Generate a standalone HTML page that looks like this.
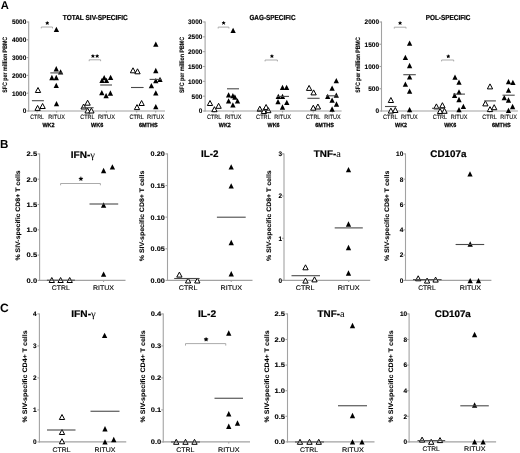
<!DOCTYPE html>
<html><head><meta charset="utf-8"><style>
html,body{margin:0;padding:0;background:#fff;}
svg{display:block;font-family:"Liberation Sans", sans-serif;filter:grayscale(1) blur(0.25px);text-rendering:geometricPrecision;}
</style></head><body>
<svg width="520" height="453" viewBox="0 0 520 453">
<rect width="520" height="453" fill="#fff"/>
<text x="0.75" y="9.0" font-size="11.2" font-weight="bold">A</text>
<line x1="28.70" y1="21.50" x2="28.70" y2="111.50" stroke="#a2a2a2" stroke-width="1.1"/>
<line x1="28.20" y1="111.00" x2="165.00" y2="111.00" stroke="#a2a2a2" stroke-width="1.1"/>
<line x1="26.70" y1="111.00" x2="28.70" y2="111.00" stroke="#a2a2a2" stroke-width="1.1"/>
<text x="22.70" y="113.36" font-size="6.6" font-weight="bold" fill="#000" stroke="#000" stroke-width="0.12" textLength="3.60" lengthAdjust="spacingAndGlyphs">0</text>
<line x1="26.70" y1="93.20" x2="28.70" y2="93.20" stroke="#a2a2a2" stroke-width="1.1"/>
<text x="11.92" y="95.56" font-size="6.6" font-weight="bold" fill="#000" stroke="#000" stroke-width="0.12" textLength="14.38" lengthAdjust="spacingAndGlyphs">1000</text>
<line x1="26.70" y1="75.40" x2="28.70" y2="75.40" stroke="#a2a2a2" stroke-width="1.1"/>
<text x="11.92" y="77.76" font-size="6.6" font-weight="bold" fill="#000" stroke="#000" stroke-width="0.12" textLength="14.38" lengthAdjust="spacingAndGlyphs">2000</text>
<line x1="26.70" y1="57.60" x2="28.70" y2="57.60" stroke="#a2a2a2" stroke-width="1.1"/>
<text x="11.92" y="59.96" font-size="6.6" font-weight="bold" fill="#000" stroke="#000" stroke-width="0.12" textLength="14.38" lengthAdjust="spacingAndGlyphs">3000</text>
<line x1="26.70" y1="39.80" x2="28.70" y2="39.80" stroke="#a2a2a2" stroke-width="1.1"/>
<text x="11.92" y="42.16" font-size="6.6" font-weight="bold" fill="#000" stroke="#000" stroke-width="0.12" textLength="14.38" lengthAdjust="spacingAndGlyphs">4000</text>
<line x1="26.70" y1="22.00" x2="28.70" y2="22.00" stroke="#a2a2a2" stroke-width="1.1"/>
<text x="11.92" y="24.36" font-size="6.6" font-weight="bold" fill="#000" stroke="#000" stroke-width="0.12" textLength="14.38" lengthAdjust="spacingAndGlyphs">5000</text>
<text x="62.80" y="20.26" font-size="7.3" font-weight="bold" fill="#000" stroke="#000" stroke-width="0.2" textLength="64.90" lengthAdjust="spacingAndGlyphs">TOTAL SIV-SPECIFIC</text>
<text transform="translate(6.90,92.70) rotate(-90)" x="0" y="0" font-size="6.4" font-weight="bold" fill="#000" stroke="#000" stroke-width="0.1" textLength="55.90" lengthAdjust="spacingAndGlyphs">SFC per million PBMC</text>
<text x="30.30" y="118.66" font-size="6.3" font-weight="normal" fill="#000" stroke="#000" stroke-width="0.1" textLength="13.60" lengthAdjust="spacingAndGlyphs">CTRL</text>
<text x="48.30" y="118.66" font-size="6.3" font-weight="normal" fill="#000" stroke="#000" stroke-width="0.1" textLength="16.70" lengthAdjust="spacingAndGlyphs">RITUX</text>
<text x="42.40" y="127.35" font-size="6.0" font-weight="bold" fill="#000" stroke="#000" stroke-width="0.25" textLength="12.20" lengthAdjust="spacingAndGlyphs">WK2</text>
<line x1="37.10" y1="111.00" x2="37.10" y2="112.50" stroke="#a2a2a2" stroke-width="1.1"/>
<line x1="56.65" y1="111.00" x2="56.65" y2="112.50" stroke="#a2a2a2" stroke-width="1.1"/>
<text x="80.30" y="118.66" font-size="6.3" font-weight="normal" fill="#000" stroke="#000" stroke-width="0.1" textLength="14.20" lengthAdjust="spacingAndGlyphs">CTRL</text>
<text x="97.90" y="118.66" font-size="6.3" font-weight="normal" fill="#000" stroke="#000" stroke-width="0.1" textLength="17.10" lengthAdjust="spacingAndGlyphs">RITUX</text>
<text x="91.10" y="127.35" font-size="6.0" font-weight="bold" fill="#000" stroke="#000" stroke-width="0.25" textLength="12.20" lengthAdjust="spacingAndGlyphs">WK6</text>
<line x1="87.40" y1="111.00" x2="87.40" y2="112.50" stroke="#a2a2a2" stroke-width="1.1"/>
<line x1="106.45" y1="111.00" x2="106.45" y2="112.50" stroke="#a2a2a2" stroke-width="1.1"/>
<text x="129.40" y="118.66" font-size="6.3" font-weight="normal" fill="#000" stroke="#000" stroke-width="0.1" textLength="14.50" lengthAdjust="spacingAndGlyphs">CTRL</text>
<text x="147.00" y="118.66" font-size="6.3" font-weight="normal" fill="#000" stroke="#000" stroke-width="0.1" textLength="17.30" lengthAdjust="spacingAndGlyphs">RITUX</text>
<text x="138.90" y="127.35" font-size="6.0" font-weight="bold" fill="#000" stroke="#000" stroke-width="0.25" textLength="18.80" lengthAdjust="spacingAndGlyphs">6MTHS</text>
<line x1="136.65" y1="111.00" x2="136.65" y2="112.50" stroke="#a2a2a2" stroke-width="1.1"/>
<line x1="155.65" y1="111.00" x2="155.65" y2="112.50" stroke="#a2a2a2" stroke-width="1.1"/>
<path d="M47.30,23.20 L47.30,21.85 M47.30,23.20 L46.02,22.78 M47.30,23.20 L46.51,24.29 M47.30,23.20 L48.09,24.29 M47.30,23.20 L48.58,22.78" stroke="#000" stroke-width="1.0" stroke-linecap="round"/>
<circle cx="47.30" cy="23.20" r="1.0" fill="#000"/>
<polyline points="41.30,28.40 41.30,27.00 52.50,27.00 52.50,28.40" fill="none" stroke="#a2a2a2" stroke-width="0.9"/>
<path d="M92.90,56.20 L92.90,54.85 M92.90,56.20 L91.62,55.78 M92.90,56.20 L92.11,57.29 M92.90,56.20 L93.69,57.29 M92.90,56.20 L94.18,55.78" stroke="#000" stroke-width="1.0" stroke-linecap="round"/>
<circle cx="92.90" cy="56.20" r="1.0" fill="#000"/>
<path d="M97.20,56.20 L97.20,54.85 M97.20,56.20 L95.92,55.78 M97.20,56.20 L96.41,57.29 M97.20,56.20 L97.99,57.29 M97.20,56.20 L98.48,55.78" stroke="#000" stroke-width="1.0" stroke-linecap="round"/>
<circle cx="97.20" cy="56.20" r="1.0" fill="#000"/>
<polyline points="89.20,61.20 89.20,59.80 100.60,59.80 100.60,61.20" fill="none" stroke="#a2a2a2" stroke-width="0.9"/>
<polygon points="38.00,87.50 35.35,92.50 40.65,92.50" fill="#fff" stroke="#000" stroke-width="1.0" stroke-linejoin="miter" stroke-miterlimit="10"/>
<polygon points="37.60,105.40 34.95,110.40 40.25,110.40" fill="#fff" stroke="#000" stroke-width="1.0" stroke-linejoin="miter" stroke-miterlimit="10"/>
<polygon points="42.60,103.50 39.95,108.50 45.25,108.50" fill="#fff" stroke="#000" stroke-width="1.0" stroke-linejoin="miter" stroke-miterlimit="10"/>
<polygon points="56.40,26.75 53.75,32.05 59.05,32.05" fill="#000"/>
<polygon points="56.25,66.10 53.60,71.40 58.90,71.40" fill="#000"/>
<polygon points="60.60,69.25 57.95,74.55 63.25,74.55" fill="#000"/>
<polygon points="51.90,74.85 49.25,80.15 54.55,80.15" fill="#000"/>
<polygon points="56.25,74.85 53.60,80.15 58.90,80.15" fill="#000"/>
<polygon points="56.25,82.75 53.60,88.05 58.90,88.05" fill="#000"/>
<polygon points="56.50,100.95 53.85,106.25 59.15,106.25" fill="#000"/>
<polygon points="87.60,100.20 84.95,105.20 90.25,105.20" fill="#fff" stroke="#000" stroke-width="1.0" stroke-linejoin="miter" stroke-miterlimit="10"/>
<polygon points="83.60,104.00 80.95,109.00 86.25,109.00" fill="#fff" stroke="#000" stroke-width="1.0" stroke-linejoin="miter" stroke-miterlimit="10"/>
<polygon points="87.60,108.00 84.95,113.00 90.25,113.00" fill="#fff" stroke="#000" stroke-width="1.0" stroke-linejoin="miter" stroke-miterlimit="10"/>
<polygon points="91.40,108.00 88.75,113.00 94.05,113.00" fill="#fff" stroke="#000" stroke-width="1.0" stroke-linejoin="miter" stroke-miterlimit="10"/>
<polygon points="104.20,75.05 101.55,80.35 106.85,80.35" fill="#000"/>
<polygon points="102.00,77.75 99.35,83.05 104.65,83.05" fill="#000"/>
<polygon points="106.50,77.75 103.85,83.05 109.15,83.05" fill="#000"/>
<polygon points="110.60,74.75 107.95,80.05 113.25,80.05" fill="#000"/>
<polygon points="101.80,90.05 99.15,95.35 104.45,95.35" fill="#000"/>
<polygon points="106.10,92.95 103.45,98.25 108.75,98.25" fill="#000"/>
<polygon points="110.40,90.35 107.75,95.65 113.05,95.65" fill="#000"/>
<polygon points="133.00,67.80 130.35,72.80 135.65,72.80" fill="#fff" stroke="#000" stroke-width="1.0" stroke-linejoin="miter" stroke-miterlimit="10"/>
<polygon points="137.50,68.80 134.85,73.80 140.15,73.80" fill="#fff" stroke="#000" stroke-width="1.0" stroke-linejoin="miter" stroke-miterlimit="10"/>
<polygon points="141.60,100.50 138.95,105.50 144.25,105.50" fill="#fff" stroke="#000" stroke-width="1.0" stroke-linejoin="miter" stroke-miterlimit="10"/>
<polygon points="137.00,104.60 134.35,109.60 139.65,109.60" fill="#fff" stroke="#000" stroke-width="1.0" stroke-linejoin="miter" stroke-miterlimit="10"/>
<polygon points="155.80,41.45 153.15,46.75 158.45,46.75" fill="#000"/>
<polygon points="155.80,67.85 153.15,73.15 158.45,73.15" fill="#000"/>
<polygon points="155.80,78.05 153.15,83.35 158.45,83.35" fill="#000"/>
<polygon points="160.00,76.75 157.35,82.05 162.65,82.05" fill="#000"/>
<polygon points="151.40,83.05 148.75,88.35 154.05,88.35" fill="#000"/>
<polygon points="155.80,90.25 153.15,95.55 158.45,95.55" fill="#000"/>
<polygon points="155.80,104.05 153.15,109.35 158.45,109.35" fill="#000"/>
<line x1="31.90" y1="100.70" x2="43.90" y2="100.70" stroke="#4a4a4a" stroke-width="1.1"/>
<line x1="50.30" y1="72.90" x2="62.30" y2="72.90" stroke="#4a4a4a" stroke-width="1.1"/>
<line x1="81.60" y1="107.70" x2="93.60" y2="107.70" stroke="#4a4a4a" stroke-width="1.1"/>
<line x1="100.20" y1="85.00" x2="112.00" y2="85.00" stroke="#4a4a4a" stroke-width="1.1"/>
<line x1="131.00" y1="87.50" x2="143.60" y2="87.50" stroke="#4a4a4a" stroke-width="1.1"/>
<line x1="149.60" y1="79.40" x2="161.60" y2="79.40" stroke="#4a4a4a" stroke-width="1.1"/>
<line x1="205.10" y1="21.50" x2="205.10" y2="111.50" stroke="#a2a2a2" stroke-width="1.1"/>
<line x1="204.60" y1="111.00" x2="341.60" y2="111.00" stroke="#a2a2a2" stroke-width="1.1"/>
<line x1="203.10" y1="111.00" x2="205.10" y2="111.00" stroke="#a2a2a2" stroke-width="1.1"/>
<text x="198.80" y="113.36" font-size="6.6" font-weight="bold" fill="#000" stroke="#000" stroke-width="0.12" textLength="3.60" lengthAdjust="spacingAndGlyphs">0</text>
<line x1="203.10" y1="96.17" x2="205.10" y2="96.17" stroke="#a2a2a2" stroke-width="1.1"/>
<text x="191.61" y="98.53" font-size="6.6" font-weight="bold" fill="#000" stroke="#000" stroke-width="0.12" textLength="10.79" lengthAdjust="spacingAndGlyphs">500</text>
<line x1="203.10" y1="81.33" x2="205.10" y2="81.33" stroke="#a2a2a2" stroke-width="1.1"/>
<text x="188.02" y="83.70" font-size="6.6" font-weight="bold" fill="#000" stroke="#000" stroke-width="0.12" textLength="14.38" lengthAdjust="spacingAndGlyphs">1000</text>
<line x1="203.10" y1="66.50" x2="205.10" y2="66.50" stroke="#a2a2a2" stroke-width="1.1"/>
<text x="188.02" y="68.86" font-size="6.6" font-weight="bold" fill="#000" stroke="#000" stroke-width="0.12" textLength="14.38" lengthAdjust="spacingAndGlyphs">1500</text>
<line x1="203.10" y1="51.67" x2="205.10" y2="51.67" stroke="#a2a2a2" stroke-width="1.1"/>
<text x="188.02" y="54.03" font-size="6.6" font-weight="bold" fill="#000" stroke="#000" stroke-width="0.12" textLength="14.38" lengthAdjust="spacingAndGlyphs">2000</text>
<line x1="203.10" y1="36.83" x2="205.10" y2="36.83" stroke="#a2a2a2" stroke-width="1.1"/>
<text x="188.02" y="39.20" font-size="6.6" font-weight="bold" fill="#000" stroke="#000" stroke-width="0.12" textLength="14.38" lengthAdjust="spacingAndGlyphs">2500</text>
<line x1="203.10" y1="22.00" x2="205.10" y2="22.00" stroke="#a2a2a2" stroke-width="1.1"/>
<text x="188.02" y="24.36" font-size="6.6" font-weight="bold" fill="#000" stroke="#000" stroke-width="0.12" textLength="14.38" lengthAdjust="spacingAndGlyphs">3000</text>
<text x="249.40" y="20.26" font-size="7.3" font-weight="bold" fill="#000" stroke="#000" stroke-width="0.2" textLength="46.10" lengthAdjust="spacingAndGlyphs">GAG-SPECIFIC</text>
<text transform="translate(183.80,93.00) rotate(-90)" x="0" y="0" font-size="6.4" font-weight="bold" fill="#000" stroke="#000" stroke-width="0.1" textLength="56.00" lengthAdjust="spacingAndGlyphs">SFC per million PBMC</text>
<text x="206.90" y="118.66" font-size="6.3" font-weight="normal" fill="#000" stroke="#000" stroke-width="0.1" textLength="14.50" lengthAdjust="spacingAndGlyphs">CTRL</text>
<text x="224.90" y="118.66" font-size="6.3" font-weight="normal" fill="#000" stroke="#000" stroke-width="0.1" textLength="16.60" lengthAdjust="spacingAndGlyphs">RITUX</text>
<text x="218.80" y="127.35" font-size="6.0" font-weight="bold" fill="#000" stroke="#000" stroke-width="0.25" textLength="12.00" lengthAdjust="spacingAndGlyphs">WK2</text>
<line x1="214.15" y1="111.00" x2="214.15" y2="112.50" stroke="#a2a2a2" stroke-width="1.1"/>
<line x1="233.20" y1="111.00" x2="233.20" y2="112.50" stroke="#a2a2a2" stroke-width="1.1"/>
<text x="256.10" y="118.66" font-size="6.3" font-weight="normal" fill="#000" stroke="#000" stroke-width="0.1" textLength="14.70" lengthAdjust="spacingAndGlyphs">CTRL</text>
<text x="274.20" y="118.66" font-size="6.3" font-weight="normal" fill="#000" stroke="#000" stroke-width="0.1" textLength="16.70" lengthAdjust="spacingAndGlyphs">RITUX</text>
<text x="267.60" y="127.35" font-size="6.0" font-weight="bold" fill="#000" stroke="#000" stroke-width="0.25" textLength="12.00" lengthAdjust="spacingAndGlyphs">WK6</text>
<line x1="263.45" y1="111.00" x2="263.45" y2="112.50" stroke="#a2a2a2" stroke-width="1.1"/>
<line x1="282.55" y1="111.00" x2="282.55" y2="112.50" stroke="#a2a2a2" stroke-width="1.1"/>
<text x="306.10" y="118.66" font-size="6.3" font-weight="normal" fill="#000" stroke="#000" stroke-width="0.1" textLength="14.30" lengthAdjust="spacingAndGlyphs">CTRL</text>
<text x="324.20" y="118.66" font-size="6.3" font-weight="normal" fill="#000" stroke="#000" stroke-width="0.1" textLength="16.40" lengthAdjust="spacingAndGlyphs">RITUX</text>
<text x="315.20" y="127.35" font-size="6.0" font-weight="bold" fill="#000" stroke="#000" stroke-width="0.25" textLength="18.80" lengthAdjust="spacingAndGlyphs">6MTHS</text>
<line x1="313.25" y1="111.00" x2="313.25" y2="112.50" stroke="#a2a2a2" stroke-width="1.1"/>
<line x1="332.40" y1="111.00" x2="332.40" y2="112.50" stroke="#a2a2a2" stroke-width="1.1"/>
<path d="M223.60,23.10 L223.60,21.75 M223.60,23.10 L222.32,22.68 M223.60,23.10 L222.81,24.19 M223.60,23.10 L224.39,24.19 M223.60,23.10 L224.88,22.68" stroke="#000" stroke-width="1.0" stroke-linecap="round"/>
<circle cx="223.60" cy="23.10" r="1.0" fill="#000"/>
<polyline points="218.20,28.50 218.20,27.10 228.90,27.10 228.90,28.50" fill="none" stroke="#a2a2a2" stroke-width="0.9"/>
<path d="M271.90,56.30 L271.90,54.95 M271.90,56.30 L270.62,55.88 M271.90,56.30 L271.11,57.39 M271.90,56.30 L272.69,57.39 M271.90,56.30 L273.18,55.88" stroke="#000" stroke-width="1.0" stroke-linecap="round"/>
<circle cx="271.90" cy="56.30" r="1.0" fill="#000"/>
<polyline points="265.10,61.40 265.10,60.00 277.40,60.00 277.40,61.40" fill="none" stroke="#a2a2a2" stroke-width="0.9"/>
<polygon points="210.00,100.50 207.35,105.50 212.65,105.50" fill="#fff" stroke="#000" stroke-width="1.0" stroke-linejoin="miter" stroke-miterlimit="10"/>
<polygon points="218.60,103.30 215.95,108.30 221.25,108.30" fill="#fff" stroke="#000" stroke-width="1.0" stroke-linejoin="miter" stroke-miterlimit="10"/>
<polygon points="214.40,106.70 211.75,111.70 217.05,111.70" fill="#fff" stroke="#000" stroke-width="1.0" stroke-linejoin="miter" stroke-miterlimit="10"/>
<polygon points="233.10,27.75 230.45,33.05 235.75,33.05" fill="#000"/>
<polygon points="228.60,92.15 225.95,97.45 231.25,97.45" fill="#000"/>
<polygon points="232.90,93.05 230.25,98.35 235.55,98.35" fill="#000"/>
<polygon points="234.90,94.35 232.25,99.65 237.55,99.65" fill="#000"/>
<polygon points="228.60,98.15 225.95,103.45 231.25,103.45" fill="#000"/>
<polygon points="237.50,98.15 234.85,103.45 240.15,103.45" fill="#000"/>
<polygon points="232.90,102.25 230.25,107.55 235.55,107.55" fill="#000"/>
<polygon points="259.80,106.20 257.15,111.20 262.45,111.20" fill="#fff" stroke="#000" stroke-width="1.0" stroke-linejoin="miter" stroke-miterlimit="10"/>
<polygon points="266.10,104.50 263.45,109.50 268.75,109.50" fill="#fff" stroke="#000" stroke-width="1.0" stroke-linejoin="miter" stroke-miterlimit="10"/>
<polygon points="263.90,108.50 261.25,113.50 266.55,113.50" fill="#fff" stroke="#000" stroke-width="1.0" stroke-linejoin="miter" stroke-miterlimit="10"/>
<polygon points="268.30,107.70 265.65,112.70 270.95,112.70" fill="#fff" stroke="#000" stroke-width="1.0" stroke-linejoin="miter" stroke-miterlimit="10"/>
<polygon points="282.50,84.65 279.85,89.95 285.15,89.95" fill="#000"/>
<polygon points="286.60,84.65 283.95,89.95 289.25,89.95" fill="#000"/>
<polygon points="278.30,93.75 275.65,99.05 280.95,99.05" fill="#000"/>
<polygon points="282.50,93.75 279.85,99.05 285.15,99.05" fill="#000"/>
<polygon points="278.00,98.95 275.35,104.25 280.65,104.25" fill="#000"/>
<polygon points="286.80,99.75 284.15,105.05 289.45,105.05" fill="#000"/>
<polygon points="282.50,104.35 279.85,109.65 285.15,109.65" fill="#000"/>
<polygon points="309.10,85.40 306.45,90.40 311.75,90.40" fill="#fff" stroke="#000" stroke-width="1.0" stroke-linejoin="miter" stroke-miterlimit="10"/>
<polygon points="313.60,89.90 310.95,94.90 316.25,94.90" fill="#fff" stroke="#000" stroke-width="1.0" stroke-linejoin="miter" stroke-miterlimit="10"/>
<polygon points="313.30,105.20 310.65,110.20 315.95,110.20" fill="#fff" stroke="#000" stroke-width="1.0" stroke-linejoin="miter" stroke-miterlimit="10"/>
<polygon points="317.90,104.00 315.25,109.00 320.55,109.00" fill="#fff" stroke="#000" stroke-width="1.0" stroke-linejoin="miter" stroke-miterlimit="10"/>
<polygon points="336.30,78.05 333.65,83.35 338.95,83.35" fill="#000"/>
<polygon points="332.10,85.55 329.45,90.85 334.75,90.85" fill="#000"/>
<polygon points="327.70,93.75 325.05,99.05 330.35,99.05" fill="#000"/>
<polygon points="336.30,92.55 333.65,97.85 338.95,97.85" fill="#000"/>
<polygon points="332.10,97.55 329.45,102.85 334.75,102.85" fill="#000"/>
<polygon points="336.50,101.35 333.85,106.65 339.15,106.65" fill="#000"/>
<polygon points="332.10,106.35 329.45,111.65 334.75,111.65" fill="#000"/>
<line x1="227.00" y1="88.80" x2="239.00" y2="88.80" stroke="#4a4a4a" stroke-width="1.1"/>
<line x1="257.50" y1="110.30" x2="270.00" y2="110.30" stroke="#4a4a4a" stroke-width="1.1"/>
<line x1="277.00" y1="96.40" x2="289.00" y2="96.40" stroke="#4a4a4a" stroke-width="1.1"/>
<line x1="307.40" y1="98.30" x2="319.60" y2="98.30" stroke="#4a4a4a" stroke-width="1.1"/>
<line x1="326.00" y1="95.80" x2="338.00" y2="95.80" stroke="#4a4a4a" stroke-width="1.1"/>
<line x1="381.50" y1="21.50" x2="381.50" y2="111.50" stroke="#a2a2a2" stroke-width="1.1"/>
<line x1="381.00" y1="111.00" x2="517.90" y2="111.00" stroke="#a2a2a2" stroke-width="1.1"/>
<line x1="379.50" y1="111.00" x2="381.50" y2="111.00" stroke="#a2a2a2" stroke-width="1.1"/>
<text x="375.40" y="113.36" font-size="6.6" font-weight="bold" fill="#000" stroke="#000" stroke-width="0.12" textLength="3.60" lengthAdjust="spacingAndGlyphs">0</text>
<line x1="379.50" y1="88.75" x2="381.50" y2="88.75" stroke="#a2a2a2" stroke-width="1.1"/>
<text x="368.21" y="91.11" font-size="6.6" font-weight="bold" fill="#000" stroke="#000" stroke-width="0.12" textLength="10.79" lengthAdjust="spacingAndGlyphs">500</text>
<line x1="379.50" y1="66.50" x2="381.50" y2="66.50" stroke="#a2a2a2" stroke-width="1.1"/>
<text x="364.62" y="68.86" font-size="6.6" font-weight="bold" fill="#000" stroke="#000" stroke-width="0.12" textLength="14.38" lengthAdjust="spacingAndGlyphs">1000</text>
<line x1="379.50" y1="44.25" x2="381.50" y2="44.25" stroke="#a2a2a2" stroke-width="1.1"/>
<text x="364.62" y="46.61" font-size="6.6" font-weight="bold" fill="#000" stroke="#000" stroke-width="0.12" textLength="14.38" lengthAdjust="spacingAndGlyphs">1500</text>
<line x1="379.50" y1="22.00" x2="381.50" y2="22.00" stroke="#a2a2a2" stroke-width="1.1"/>
<text x="364.62" y="24.36" font-size="6.6" font-weight="bold" fill="#000" stroke="#000" stroke-width="0.12" textLength="14.38" lengthAdjust="spacingAndGlyphs">2000</text>
<text x="425.70" y="20.26" font-size="7.3" font-weight="bold" fill="#000" stroke="#000" stroke-width="0.2" textLength="44.80" lengthAdjust="spacingAndGlyphs">POL-SPECIFIC</text>
<text transform="translate(359.60,92.80) rotate(-90)" x="0" y="0" font-size="6.4" font-weight="bold" fill="#000" stroke="#000" stroke-width="0.1" textLength="55.60" lengthAdjust="spacingAndGlyphs">SFC per million PBMC</text>
<text x="383.10" y="118.66" font-size="6.3" font-weight="normal" fill="#000" stroke="#000" stroke-width="0.1" textLength="14.50" lengthAdjust="spacingAndGlyphs">CTRL</text>
<text x="401.10" y="118.66" font-size="6.3" font-weight="normal" fill="#000" stroke="#000" stroke-width="0.1" textLength="16.60" lengthAdjust="spacingAndGlyphs">RITUX</text>
<text x="395.10" y="127.35" font-size="6.0" font-weight="bold" fill="#000" stroke="#000" stroke-width="0.25" textLength="11.90" lengthAdjust="spacingAndGlyphs">WK2</text>
<line x1="390.35" y1="111.00" x2="390.35" y2="112.50" stroke="#a2a2a2" stroke-width="1.1"/>
<line x1="409.40" y1="111.00" x2="409.40" y2="112.50" stroke="#a2a2a2" stroke-width="1.1"/>
<text x="432.80" y="118.66" font-size="6.3" font-weight="normal" fill="#000" stroke="#000" stroke-width="0.1" textLength="14.20" lengthAdjust="spacingAndGlyphs">CTRL</text>
<text x="450.80" y="118.66" font-size="6.3" font-weight="normal" fill="#000" stroke="#000" stroke-width="0.1" textLength="16.70" lengthAdjust="spacingAndGlyphs">RITUX</text>
<text x="444.20" y="127.35" font-size="6.0" font-weight="bold" fill="#000" stroke="#000" stroke-width="0.25" textLength="12.00" lengthAdjust="spacingAndGlyphs">WK6</text>
<line x1="439.90" y1="111.00" x2="439.90" y2="112.50" stroke="#a2a2a2" stroke-width="1.1"/>
<line x1="459.15" y1="111.00" x2="459.15" y2="112.50" stroke="#a2a2a2" stroke-width="1.1"/>
<text x="482.30" y="118.66" font-size="6.3" font-weight="normal" fill="#000" stroke="#000" stroke-width="0.1" textLength="14.60" lengthAdjust="spacingAndGlyphs">CTRL</text>
<text x="500.30" y="118.66" font-size="6.3" font-weight="normal" fill="#000" stroke="#000" stroke-width="0.1" textLength="16.60" lengthAdjust="spacingAndGlyphs">RITUX</text>
<text x="491.90" y="127.35" font-size="6.0" font-weight="bold" fill="#000" stroke="#000" stroke-width="0.25" textLength="18.70" lengthAdjust="spacingAndGlyphs">6MTHS</text>
<line x1="489.60" y1="111.00" x2="489.60" y2="112.50" stroke="#a2a2a2" stroke-width="1.1"/>
<line x1="508.60" y1="111.00" x2="508.60" y2="112.50" stroke="#a2a2a2" stroke-width="1.1"/>
<path d="M400.10,23.20 L400.10,21.85 M400.10,23.20 L398.82,22.78 M400.10,23.20 L399.31,24.29 M400.10,23.20 L400.89,24.29 M400.10,23.20 L401.38,22.78" stroke="#000" stroke-width="1.0" stroke-linecap="round"/>
<circle cx="400.10" cy="23.20" r="1.0" fill="#000"/>
<polyline points="394.30,28.60 394.30,27.20 406.00,27.20 406.00,28.60" fill="none" stroke="#a2a2a2" stroke-width="0.9"/>
<path d="M448.30,56.40 L448.30,55.05 M448.30,56.40 L447.02,55.98 M448.30,56.40 L447.51,57.49 M448.30,56.40 L449.09,57.49 M448.30,56.40 L449.58,55.98" stroke="#000" stroke-width="1.0" stroke-linecap="round"/>
<circle cx="448.30" cy="56.40" r="1.0" fill="#000"/>
<polyline points="441.60,61.40 441.60,60.00 453.70,60.00 453.70,61.40" fill="none" stroke="#a2a2a2" stroke-width="0.9"/>
<polygon points="390.90,97.50 388.25,102.50 393.55,102.50" fill="#fff" stroke="#000" stroke-width="1.0" stroke-linejoin="miter" stroke-miterlimit="10"/>
<polygon points="390.90,108.10 388.25,113.10 393.55,113.10" fill="#fff" stroke="#000" stroke-width="1.0" stroke-linejoin="miter" stroke-miterlimit="10"/>
<polygon points="395.30,107.50 392.65,112.50 397.95,112.50" fill="#fff" stroke="#000" stroke-width="1.0" stroke-linejoin="miter" stroke-miterlimit="10"/>
<polygon points="409.60,40.55 406.95,45.85 412.25,45.85" fill="#000"/>
<polygon points="405.40,54.75 402.75,60.05 408.05,60.05" fill="#000"/>
<polygon points="409.60,62.85 406.95,68.15 412.25,68.15" fill="#000"/>
<polygon points="409.60,74.15 406.95,79.45 412.25,79.45" fill="#000"/>
<polygon points="405.40,81.45 402.75,86.75 408.05,86.75" fill="#000"/>
<polygon points="409.60,88.45 406.95,93.75 412.25,93.75" fill="#000"/>
<polygon points="409.60,106.95 406.95,112.25 412.25,112.25" fill="#000"/>
<polygon points="436.40,103.90 433.75,108.90 439.05,108.90" fill="#fff" stroke="#000" stroke-width="1.0" stroke-linejoin="miter" stroke-miterlimit="10"/>
<polygon points="442.40,102.70 439.75,107.70 445.05,107.70" fill="#fff" stroke="#000" stroke-width="1.0" stroke-linejoin="miter" stroke-miterlimit="10"/>
<polygon points="440.10,108.50 437.45,113.50 442.75,113.50" fill="#fff" stroke="#000" stroke-width="1.0" stroke-linejoin="miter" stroke-miterlimit="10"/>
<polygon points="444.50,108.30 441.85,113.30 447.15,113.30" fill="#fff" stroke="#000" stroke-width="1.0" stroke-linejoin="miter" stroke-miterlimit="10"/>
<polygon points="455.00,74.45 452.35,79.75 457.65,79.75" fill="#000"/>
<polygon points="459.00,79.45 456.35,84.75 461.65,84.75" fill="#000"/>
<polygon points="459.00,89.25 456.35,94.55 461.65,94.55" fill="#000"/>
<polygon points="454.60,92.65 451.95,97.95 457.25,97.95" fill="#000"/>
<polygon points="459.00,96.85 456.35,102.15 461.65,102.15" fill="#000"/>
<polygon points="463.40,103.75 460.75,109.05 466.05,109.05" fill="#000"/>
<polygon points="459.00,106.95 456.35,112.25 461.65,112.25" fill="#000"/>
<polygon points="490.00,83.90 487.35,88.90 492.65,88.90" fill="#fff" stroke="#000" stroke-width="1.0" stroke-linejoin="miter" stroke-miterlimit="10"/>
<polygon points="485.40,100.90 482.75,105.90 488.05,105.90" fill="#fff" stroke="#000" stroke-width="1.0" stroke-linejoin="miter" stroke-miterlimit="10"/>
<polygon points="494.20,104.70 491.55,109.70 496.85,109.70" fill="#fff" stroke="#000" stroke-width="1.0" stroke-linejoin="miter" stroke-miterlimit="10"/>
<polygon points="490.00,106.60 487.35,111.60 492.65,111.60" fill="#fff" stroke="#000" stroke-width="1.0" stroke-linejoin="miter" stroke-miterlimit="10"/>
<polygon points="508.50,78.95 505.85,84.25 511.15,84.25" fill="#000"/>
<polygon points="512.90,79.75 510.25,85.05 515.55,85.05" fill="#000"/>
<polygon points="508.50,87.55 505.85,92.85 511.15,92.85" fill="#000"/>
<polygon points="504.30,95.05 501.65,100.35 506.95,100.35" fill="#000"/>
<polygon points="508.50,97.35 505.85,102.65 511.15,102.65" fill="#000"/>
<polygon points="512.60,103.85 509.95,109.15 515.25,109.15" fill="#000"/>
<polygon points="508.50,107.65 505.85,112.95 511.15,112.95" fill="#000"/>
<line x1="385.00" y1="106.50" x2="396.60" y2="106.50" stroke="#4a4a4a" stroke-width="1.1"/>
<line x1="403.30" y1="74.70" x2="415.80" y2="74.70" stroke="#4a4a4a" stroke-width="1.1"/>
<line x1="432.00" y1="108.30" x2="444.00" y2="108.30" stroke="#4a4a4a" stroke-width="1.1"/>
<line x1="453.00" y1="94.10" x2="465.00" y2="94.10" stroke="#4a4a4a" stroke-width="1.1"/>
<line x1="484.20" y1="100.90" x2="495.90" y2="100.90" stroke="#4a4a4a" stroke-width="1.1"/>
<line x1="502.50" y1="95.20" x2="514.70" y2="95.20" stroke="#4a4a4a" stroke-width="1.1"/>
<text x="0.05" y="148.0" font-size="11.6" font-weight="bold">B</text>
<line x1="39.60" y1="153.40" x2="39.60" y2="280.90" stroke="#a2a2a2" stroke-width="1.1"/>
<line x1="39.10" y1="280.40" x2="125.50" y2="280.40" stroke="#a2a2a2" stroke-width="1.1"/>
<line x1="37.60" y1="280.40" x2="39.60" y2="280.40" stroke="#a2a2a2" stroke-width="1.1"/>
<text x="26.61" y="282.76" font-size="6.6" font-weight="bold" fill="#000" stroke="#000" stroke-width="0.12" textLength="10.49" lengthAdjust="spacingAndGlyphs">0.0</text>
<line x1="37.60" y1="255.10" x2="39.60" y2="255.10" stroke="#a2a2a2" stroke-width="1.1"/>
<text x="26.61" y="257.46" font-size="6.6" font-weight="bold" fill="#000" stroke="#000" stroke-width="0.12" textLength="10.49" lengthAdjust="spacingAndGlyphs">0.5</text>
<line x1="37.60" y1="229.80" x2="39.60" y2="229.80" stroke="#a2a2a2" stroke-width="1.1"/>
<text x="26.61" y="232.16" font-size="6.6" font-weight="bold" fill="#000" stroke="#000" stroke-width="0.12" textLength="10.49" lengthAdjust="spacingAndGlyphs">1.0</text>
<line x1="37.60" y1="204.50" x2="39.60" y2="204.50" stroke="#a2a2a2" stroke-width="1.1"/>
<text x="26.61" y="206.86" font-size="6.6" font-weight="bold" fill="#000" stroke="#000" stroke-width="0.12" textLength="10.49" lengthAdjust="spacingAndGlyphs">1.5</text>
<line x1="37.60" y1="179.20" x2="39.60" y2="179.20" stroke="#a2a2a2" stroke-width="1.1"/>
<text x="26.61" y="181.56" font-size="6.6" font-weight="bold" fill="#000" stroke="#000" stroke-width="0.12" textLength="10.49" lengthAdjust="spacingAndGlyphs">2.0</text>
<line x1="37.60" y1="153.90" x2="39.60" y2="153.90" stroke="#a2a2a2" stroke-width="1.1"/>
<text x="26.61" y="156.26" font-size="6.6" font-weight="bold" fill="#000" stroke="#000" stroke-width="0.12" textLength="10.49" lengthAdjust="spacingAndGlyphs">2.5</text>
<text x="70.80" y="157.60" font-size="9.5" font-weight="bold" stroke="#000" stroke-width="0.2" textLength="24.20" lengthAdjust="spacingAndGlyphs">IFN-<tspan font-weight="normal" stroke-width="0.05" font-size="10" style='font-family:"Liberation Serif", serif'>γ</tspan></text>
<text transform="translate(20.30,260.50) rotate(-90)" x="0" y="0" font-size="6.5" font-weight="bold" fill="#000" stroke="#000" stroke-width="0.1" textLength="90.20" lengthAdjust="spacingAndGlyphs">% SIV-specific CD8+ T cells</text>
<text x="51.80" y="290.30" font-size="6.7" font-weight="normal" fill="#000" stroke="#000" stroke-width="0.12" textLength="17.90" lengthAdjust="spacingAndGlyphs">CTRL</text>
<text x="93.10" y="290.30" font-size="6.7" font-weight="normal" fill="#000" stroke="#000" stroke-width="0.12" textLength="20.90" lengthAdjust="spacingAndGlyphs">RITUX</text>
<line x1="60.75" y1="280.40" x2="60.75" y2="281.90" stroke="#a2a2a2" stroke-width="1.1"/>
<line x1="103.55" y1="280.40" x2="103.55" y2="281.90" stroke="#a2a2a2" stroke-width="1.1"/>
<path d="M80.90,178.80 L80.90,177.15 M80.90,178.80 L79.24,178.29 M80.90,178.80 L79.87,180.13 M80.90,178.80 L81.93,180.13 M80.90,178.80 L82.56,178.29" stroke="#000" stroke-width="1.1" stroke-linecap="round"/>
<circle cx="80.90" cy="178.80" r="0.9" fill="#000"/>
<polyline points="60.60,185.30 60.60,183.50 100.40,183.50 100.40,185.30" fill="none" stroke="#a2a2a2" stroke-width="0.9"/>
<polygon points="51.80,277.50 49.15,282.50 54.45,282.50" fill="#fff" stroke="#000" stroke-width="1.0" stroke-linejoin="miter" stroke-miterlimit="10"/>
<polygon points="60.60,277.50 57.95,282.50 63.25,282.50" fill="#fff" stroke="#000" stroke-width="1.0" stroke-linejoin="miter" stroke-miterlimit="10"/>
<polygon points="69.70,277.50 67.05,282.50 72.35,282.50" fill="#fff" stroke="#000" stroke-width="1.0" stroke-linejoin="miter" stroke-miterlimit="10"/>
<polygon points="103.60,271.55 100.95,276.85 106.25,276.85" fill="#000"/>
<polygon points="103.60,202.35 100.95,207.65 106.25,207.65" fill="#000"/>
<polygon points="103.60,167.85 100.95,173.15 106.25,173.15" fill="#000"/>
<polygon points="112.40,164.25 109.75,169.55 115.05,169.55" fill="#000"/>
<line x1="46.90" y1="280.20" x2="74.90" y2="280.20" stroke="#4a4a4a" stroke-width="1.1"/>
<line x1="89.50" y1="204.00" x2="118.20" y2="204.00" stroke="#4a4a4a" stroke-width="1.1"/>
<line x1="167.50" y1="153.40" x2="167.50" y2="280.90" stroke="#a2a2a2" stroke-width="1.1"/>
<line x1="167.00" y1="280.40" x2="252.50" y2="280.40" stroke="#a2a2a2" stroke-width="1.1"/>
<line x1="165.50" y1="280.40" x2="167.50" y2="280.40" stroke="#a2a2a2" stroke-width="1.1"/>
<text x="150.61" y="282.76" font-size="6.6" font-weight="bold" fill="#000" stroke="#000" stroke-width="0.12" textLength="14.09" lengthAdjust="spacingAndGlyphs">0.00</text>
<line x1="165.50" y1="248.77" x2="167.50" y2="248.77" stroke="#a2a2a2" stroke-width="1.1"/>
<text x="150.61" y="251.14" font-size="6.6" font-weight="bold" fill="#000" stroke="#000" stroke-width="0.12" textLength="14.09" lengthAdjust="spacingAndGlyphs">0.05</text>
<line x1="165.50" y1="217.15" x2="167.50" y2="217.15" stroke="#a2a2a2" stroke-width="1.1"/>
<text x="150.61" y="219.51" font-size="6.6" font-weight="bold" fill="#000" stroke="#000" stroke-width="0.12" textLength="14.09" lengthAdjust="spacingAndGlyphs">0.10</text>
<line x1="165.50" y1="185.53" x2="167.50" y2="185.53" stroke="#a2a2a2" stroke-width="1.1"/>
<text x="150.61" y="187.89" font-size="6.6" font-weight="bold" fill="#000" stroke="#000" stroke-width="0.12" textLength="14.09" lengthAdjust="spacingAndGlyphs">0.15</text>
<line x1="165.50" y1="153.90" x2="167.50" y2="153.90" stroke="#a2a2a2" stroke-width="1.1"/>
<text x="150.61" y="156.26" font-size="6.6" font-weight="bold" fill="#000" stroke="#000" stroke-width="0.12" textLength="14.09" lengthAdjust="spacingAndGlyphs">0.20</text>
<text x="201.00" y="157.20" font-size="9.5" font-weight="bold" fill="#000" stroke="#000" stroke-width="0.2" textLength="17.50" lengthAdjust="spacingAndGlyphs">IL-2</text>
<text transform="translate(143.70,261.20) rotate(-90)" x="0" y="0" font-size="6.5" font-weight="bold" fill="#000" stroke="#000" stroke-width="0.1" textLength="90.60" lengthAdjust="spacingAndGlyphs">% SIV-specific CD8+ T cells</text>
<text x="178.75" y="289.90" font-size="6.7" font-weight="normal" fill="#000" stroke="#000" stroke-width="0.12" textLength="18.75" lengthAdjust="spacingAndGlyphs">CTRL</text>
<text x="220.50" y="289.90" font-size="6.7" font-weight="normal" fill="#000" stroke="#000" stroke-width="0.12" textLength="21.50" lengthAdjust="spacingAndGlyphs">RITUX</text>
<line x1="188.12" y1="280.40" x2="188.12" y2="281.90" stroke="#a2a2a2" stroke-width="1.1"/>
<line x1="231.25" y1="280.40" x2="231.25" y2="281.90" stroke="#a2a2a2" stroke-width="1.1"/>
<polygon points="179.40,272.10 176.75,277.10 182.05,277.10" fill="#fff" stroke="#000" stroke-width="1.0" stroke-linejoin="miter" stroke-miterlimit="10"/>
<polygon points="188.10,278.00 185.45,283.00 190.75,283.00" fill="#fff" stroke="#000" stroke-width="1.0" stroke-linejoin="miter" stroke-miterlimit="10"/>
<polygon points="197.30,278.00 194.65,283.00 199.95,283.00" fill="#fff" stroke="#000" stroke-width="1.0" stroke-linejoin="miter" stroke-miterlimit="10"/>
<polygon points="231.20,164.25 228.55,169.55 233.85,169.55" fill="#000"/>
<polygon points="231.20,183.15 228.55,188.45 233.85,188.45" fill="#000"/>
<polygon points="231.25,239.85 228.60,245.15 233.90,245.15" fill="#000"/>
<polygon points="231.25,271.10 228.60,276.40 233.90,276.40" fill="#000"/>
<line x1="174.20" y1="278.50" x2="199.60" y2="278.50" stroke="#4a4a4a" stroke-width="1.1"/>
<line x1="216.90" y1="217.20" x2="245.70" y2="217.20" stroke="#4a4a4a" stroke-width="1.1"/>
<line x1="284.00" y1="153.40" x2="284.00" y2="280.90" stroke="#a2a2a2" stroke-width="1.1"/>
<line x1="283.50" y1="280.40" x2="370.20" y2="280.40" stroke="#a2a2a2" stroke-width="1.1"/>
<line x1="282.00" y1="280.40" x2="284.00" y2="280.40" stroke="#a2a2a2" stroke-width="1.1"/>
<text x="278.40" y="282.76" font-size="6.6" font-weight="bold" fill="#000" stroke="#000" stroke-width="0.12" textLength="3.60" lengthAdjust="spacingAndGlyphs">0</text>
<line x1="282.00" y1="238.23" x2="284.00" y2="238.23" stroke="#a2a2a2" stroke-width="1.1"/>
<text x="278.40" y="240.60" font-size="6.6" font-weight="bold" fill="#000" stroke="#000" stroke-width="0.12" textLength="3.60" lengthAdjust="spacingAndGlyphs">1</text>
<line x1="282.00" y1="196.07" x2="284.00" y2="196.07" stroke="#a2a2a2" stroke-width="1.1"/>
<text x="278.40" y="198.43" font-size="6.6" font-weight="bold" fill="#000" stroke="#000" stroke-width="0.12" textLength="3.60" lengthAdjust="spacingAndGlyphs">2</text>
<line x1="282.00" y1="153.90" x2="284.00" y2="153.90" stroke="#a2a2a2" stroke-width="1.1"/>
<text x="278.40" y="156.26" font-size="6.6" font-weight="bold" fill="#000" stroke="#000" stroke-width="0.12" textLength="3.60" lengthAdjust="spacingAndGlyphs">3</text>
<text x="313.80" y="157.00" font-size="9.5" font-weight="bold" stroke="#000" stroke-width="0.2" textLength="27.00" lengthAdjust="spacingAndGlyphs">TNF-<tspan font-weight="normal" stroke-width="0.05" font-size="10" style='font-family:"Liberation Serif", serif'>a</tspan></text>
<text transform="translate(271.40,260.90) rotate(-90)" x="0" y="0" font-size="6.5" font-weight="bold" fill="#000" stroke="#000" stroke-width="0.1" textLength="90.60" lengthAdjust="spacingAndGlyphs">% SIV-specific CD8+ T cells</text>
<text x="295.80" y="289.90" font-size="6.7" font-weight="normal" fill="#000" stroke="#000" stroke-width="0.12" textLength="18.70" lengthAdjust="spacingAndGlyphs">CTRL</text>
<text x="337.80" y="289.90" font-size="6.7" font-weight="normal" fill="#000" stroke="#000" stroke-width="0.12" textLength="21.80" lengthAdjust="spacingAndGlyphs">RITUX</text>
<line x1="305.15" y1="280.40" x2="305.15" y2="281.90" stroke="#a2a2a2" stroke-width="1.1"/>
<line x1="348.70" y1="280.40" x2="348.70" y2="281.90" stroke="#a2a2a2" stroke-width="1.1"/>
<polygon points="305.50,264.80 302.85,269.80 308.15,269.80" fill="#fff" stroke="#000" stroke-width="1.0" stroke-linejoin="miter" stroke-miterlimit="10"/>
<polygon points="305.50,278.10 302.85,283.10 308.15,283.10" fill="#fff" stroke="#000" stroke-width="1.0" stroke-linejoin="miter" stroke-miterlimit="10"/>
<polygon points="314.50,276.90 311.85,281.90 317.15,281.90" fill="#fff" stroke="#000" stroke-width="1.0" stroke-linejoin="miter" stroke-miterlimit="10"/>
<polygon points="348.50,166.95 345.85,172.25 351.15,172.25" fill="#000"/>
<polygon points="348.50,221.35 345.85,226.65 351.15,226.65" fill="#000"/>
<polygon points="348.50,244.85 345.85,250.15 351.15,250.15" fill="#000"/>
<polygon points="348.50,270.35 345.85,275.65 351.15,275.65" fill="#000"/>
<line x1="291.50" y1="275.70" x2="320.00" y2="275.70" stroke="#4a4a4a" stroke-width="1.1"/>
<line x1="334.70" y1="227.90" x2="362.80" y2="227.90" stroke="#4a4a4a" stroke-width="1.1"/>
<line x1="405.50" y1="153.40" x2="405.50" y2="280.90" stroke="#a2a2a2" stroke-width="1.1"/>
<line x1="405.00" y1="280.40" x2="491.40" y2="280.40" stroke="#a2a2a2" stroke-width="1.1"/>
<line x1="403.50" y1="280.40" x2="405.50" y2="280.40" stroke="#a2a2a2" stroke-width="1.1"/>
<text x="399.70" y="282.76" font-size="6.6" font-weight="bold" fill="#000" stroke="#000" stroke-width="0.12" textLength="3.60" lengthAdjust="spacingAndGlyphs">0</text>
<line x1="403.50" y1="255.10" x2="405.50" y2="255.10" stroke="#a2a2a2" stroke-width="1.1"/>
<text x="399.70" y="257.46" font-size="6.6" font-weight="bold" fill="#000" stroke="#000" stroke-width="0.12" textLength="3.60" lengthAdjust="spacingAndGlyphs">2</text>
<line x1="403.50" y1="229.80" x2="405.50" y2="229.80" stroke="#a2a2a2" stroke-width="1.1"/>
<text x="399.70" y="232.16" font-size="6.6" font-weight="bold" fill="#000" stroke="#000" stroke-width="0.12" textLength="3.60" lengthAdjust="spacingAndGlyphs">4</text>
<line x1="403.50" y1="204.50" x2="405.50" y2="204.50" stroke="#a2a2a2" stroke-width="1.1"/>
<text x="399.70" y="206.86" font-size="6.6" font-weight="bold" fill="#000" stroke="#000" stroke-width="0.12" textLength="3.60" lengthAdjust="spacingAndGlyphs">6</text>
<line x1="403.50" y1="179.20" x2="405.50" y2="179.20" stroke="#a2a2a2" stroke-width="1.1"/>
<text x="399.70" y="181.56" font-size="6.6" font-weight="bold" fill="#000" stroke="#000" stroke-width="0.12" textLength="3.60" lengthAdjust="spacingAndGlyphs">8</text>
<line x1="403.50" y1="153.90" x2="405.50" y2="153.90" stroke="#a2a2a2" stroke-width="1.1"/>
<text x="396.11" y="156.26" font-size="6.6" font-weight="bold" fill="#000" stroke="#000" stroke-width="0.12" textLength="7.19" lengthAdjust="spacingAndGlyphs">10</text>
<text x="430.30" y="157.20" font-size="9.5" font-weight="bold" fill="#000" stroke="#000" stroke-width="0.2" textLength="36.10" lengthAdjust="spacingAndGlyphs">CD107a</text>
<text transform="translate(388.50,260.90) rotate(-90)" x="0" y="0" font-size="6.5" font-weight="bold" fill="#000" stroke="#000" stroke-width="0.1" textLength="90.30" lengthAdjust="spacingAndGlyphs">% SIV-specific CD8+ T cells</text>
<text x="418.20" y="290.40" font-size="6.7" font-weight="normal" fill="#000" stroke="#000" stroke-width="0.12" textLength="17.40" lengthAdjust="spacingAndGlyphs">CTRL</text>
<text x="459.80" y="290.40" font-size="6.7" font-weight="normal" fill="#000" stroke="#000" stroke-width="0.12" textLength="21.30" lengthAdjust="spacingAndGlyphs">RITUX</text>
<line x1="426.90" y1="280.40" x2="426.90" y2="281.90" stroke="#a2a2a2" stroke-width="1.1"/>
<line x1="470.45" y1="280.40" x2="470.45" y2="281.90" stroke="#a2a2a2" stroke-width="1.1"/>
<polygon points="418.20,275.80 415.55,280.80 420.85,280.80" fill="#fff" stroke="#000" stroke-width="1.0" stroke-linejoin="miter" stroke-miterlimit="10"/>
<polygon points="427.10,278.10 424.45,283.10 429.75,283.10" fill="#fff" stroke="#000" stroke-width="1.0" stroke-linejoin="miter" stroke-miterlimit="10"/>
<polygon points="435.60,277.10 432.95,282.10 438.25,282.10" fill="#fff" stroke="#000" stroke-width="1.0" stroke-linejoin="miter" stroke-miterlimit="10"/>
<polygon points="470.00,171.15 467.35,176.45 472.65,176.45" fill="#000"/>
<polygon points="470.20,241.35 467.55,246.65 472.85,246.65" fill="#000"/>
<polygon points="470.20,277.95 467.55,283.25 472.85,283.25" fill="#000"/>
<polygon points="478.50,277.95 475.85,283.25 481.15,283.25" fill="#000"/>
<line x1="413.00" y1="279.60" x2="441.60" y2="279.60" stroke="#4a4a4a" stroke-width="1.1"/>
<line x1="455.60" y1="244.50" x2="484.20" y2="244.50" stroke="#4a4a4a" stroke-width="1.1"/>
<text x="-0.1" y="311.9" font-size="12.1" font-weight="bold">C</text>
<line x1="39.40" y1="313.40" x2="39.40" y2="442.40" stroke="#a2a2a2" stroke-width="1.1"/>
<line x1="38.90" y1="441.90" x2="126.25" y2="441.90" stroke="#a2a2a2" stroke-width="1.1"/>
<line x1="37.40" y1="441.90" x2="39.40" y2="441.90" stroke="#a2a2a2" stroke-width="1.1"/>
<text x="33.00" y="444.26" font-size="6.6" font-weight="bold" fill="#000" stroke="#000" stroke-width="0.12" textLength="3.60" lengthAdjust="spacingAndGlyphs">0</text>
<line x1="37.40" y1="409.90" x2="39.40" y2="409.90" stroke="#a2a2a2" stroke-width="1.1"/>
<text x="33.00" y="412.26" font-size="6.6" font-weight="bold" fill="#000" stroke="#000" stroke-width="0.12" textLength="3.60" lengthAdjust="spacingAndGlyphs">1</text>
<line x1="37.40" y1="377.90" x2="39.40" y2="377.90" stroke="#a2a2a2" stroke-width="1.1"/>
<text x="33.00" y="380.26" font-size="6.6" font-weight="bold" fill="#000" stroke="#000" stroke-width="0.12" textLength="3.60" lengthAdjust="spacingAndGlyphs">2</text>
<line x1="37.40" y1="345.90" x2="39.40" y2="345.90" stroke="#a2a2a2" stroke-width="1.1"/>
<text x="33.00" y="348.26" font-size="6.6" font-weight="bold" fill="#000" stroke="#000" stroke-width="0.12" textLength="3.60" lengthAdjust="spacingAndGlyphs">3</text>
<line x1="37.40" y1="313.90" x2="39.40" y2="313.90" stroke="#a2a2a2" stroke-width="1.1"/>
<text x="33.00" y="316.26" font-size="6.6" font-weight="bold" fill="#000" stroke="#000" stroke-width="0.12" textLength="3.60" lengthAdjust="spacingAndGlyphs">4</text>
<text x="71.30" y="317.40" font-size="9.5" font-weight="bold" stroke="#000" stroke-width="0.2" textLength="24.50" lengthAdjust="spacingAndGlyphs">IFN-<tspan font-weight="normal" stroke-width="0.05" font-size="10" style='font-family:"Liberation Serif", serif'>γ</tspan></text>
<text transform="translate(26.60,422.50) rotate(-90)" x="0" y="0" font-size="6.5" font-weight="bold" fill="#000" stroke="#000" stroke-width="0.1" textLength="92.20" lengthAdjust="spacingAndGlyphs">% SIV-specific CD4+ T cells</text>
<text x="52.50" y="451.60" font-size="6.7" font-weight="normal" fill="#000" stroke="#000" stroke-width="0.12" textLength="18.00" lengthAdjust="spacingAndGlyphs">CTRL</text>
<text x="94.50" y="451.60" font-size="6.7" font-weight="normal" fill="#000" stroke="#000" stroke-width="0.12" textLength="21.00" lengthAdjust="spacingAndGlyphs">RITUX</text>
<line x1="61.50" y1="441.90" x2="61.50" y2="443.40" stroke="#a2a2a2" stroke-width="1.1"/>
<line x1="105.00" y1="441.90" x2="105.00" y2="443.40" stroke="#a2a2a2" stroke-width="1.1"/>
<polygon points="62.00,414.50 59.35,419.50 64.65,419.50" fill="#fff" stroke="#000" stroke-width="1.0" stroke-linejoin="miter" stroke-miterlimit="10"/>
<polygon points="62.00,429.50 59.35,434.50 64.65,434.50" fill="#fff" stroke="#000" stroke-width="1.0" stroke-linejoin="miter" stroke-miterlimit="10"/>
<polygon points="62.00,438.75 59.35,443.75 64.65,443.75" fill="#fff" stroke="#000" stroke-width="1.0" stroke-linejoin="miter" stroke-miterlimit="10"/>
<polygon points="104.60,332.65 101.95,337.95 107.25,337.95" fill="#000"/>
<polygon points="105.00,426.10 102.35,431.40 107.65,431.40" fill="#000"/>
<polygon points="105.00,439.15 102.35,444.45 107.65,444.45" fill="#000"/>
<polygon points="113.75,436.85 111.10,442.15 116.40,442.15" fill="#000"/>
<line x1="47.00" y1="430.00" x2="75.50" y2="430.00" stroke="#4a4a4a" stroke-width="1.1"/>
<line x1="90.50" y1="411.25" x2="119.50" y2="411.25" stroke="#4a4a4a" stroke-width="1.1"/>
<line x1="163.25" y1="313.40" x2="163.25" y2="442.40" stroke="#a2a2a2" stroke-width="1.1"/>
<line x1="162.75" y1="441.90" x2="250.00" y2="441.90" stroke="#a2a2a2" stroke-width="1.1"/>
<line x1="161.25" y1="441.90" x2="163.25" y2="441.90" stroke="#a2a2a2" stroke-width="1.1"/>
<text x="150.76" y="444.26" font-size="6.6" font-weight="bold" fill="#000" stroke="#000" stroke-width="0.12" textLength="10.49" lengthAdjust="spacingAndGlyphs">0.0</text>
<line x1="161.25" y1="409.90" x2="163.25" y2="409.90" stroke="#a2a2a2" stroke-width="1.1"/>
<text x="150.76" y="412.26" font-size="6.6" font-weight="bold" fill="#000" stroke="#000" stroke-width="0.12" textLength="10.49" lengthAdjust="spacingAndGlyphs">0.1</text>
<line x1="161.25" y1="377.90" x2="163.25" y2="377.90" stroke="#a2a2a2" stroke-width="1.1"/>
<text x="150.76" y="380.26" font-size="6.6" font-weight="bold" fill="#000" stroke="#000" stroke-width="0.12" textLength="10.49" lengthAdjust="spacingAndGlyphs">0.2</text>
<line x1="161.25" y1="345.90" x2="163.25" y2="345.90" stroke="#a2a2a2" stroke-width="1.1"/>
<text x="150.76" y="348.26" font-size="6.6" font-weight="bold" fill="#000" stroke="#000" stroke-width="0.12" textLength="10.49" lengthAdjust="spacingAndGlyphs">0.3</text>
<line x1="161.25" y1="313.90" x2="163.25" y2="313.90" stroke="#a2a2a2" stroke-width="1.1"/>
<text x="150.76" y="316.26" font-size="6.6" font-weight="bold" fill="#000" stroke="#000" stroke-width="0.12" textLength="10.49" lengthAdjust="spacingAndGlyphs">0.4</text>
<text x="198.00" y="317.30" font-size="9.5" font-weight="bold" fill="#000" stroke="#000" stroke-width="0.2" textLength="18.25" lengthAdjust="spacingAndGlyphs">IL-2</text>
<text transform="translate(144.60,422.50) rotate(-90)" x="0" y="0" font-size="6.5" font-weight="bold" fill="#000" stroke="#000" stroke-width="0.1" textLength="92.20" lengthAdjust="spacingAndGlyphs">% SIV-specific CD4+ T cells</text>
<text x="176.25" y="451.60" font-size="6.7" font-weight="normal" fill="#000" stroke="#000" stroke-width="0.12" textLength="18.25" lengthAdjust="spacingAndGlyphs">CTRL</text>
<text x="218.00" y="451.60" font-size="6.7" font-weight="normal" fill="#000" stroke="#000" stroke-width="0.12" textLength="21.50" lengthAdjust="spacingAndGlyphs">RITUX</text>
<line x1="185.38" y1="441.90" x2="185.38" y2="443.40" stroke="#a2a2a2" stroke-width="1.1"/>
<line x1="228.75" y1="441.90" x2="228.75" y2="443.40" stroke="#a2a2a2" stroke-width="1.1"/>
<path d="M206.10,339.40 L206.10,337.75 M206.10,339.40 L204.44,338.89 M206.10,339.40 L205.07,340.73 M206.10,339.40 L207.13,340.73 M206.10,339.40 L207.76,338.89" stroke="#000" stroke-width="1.1" stroke-linecap="round"/>
<circle cx="206.10" cy="339.40" r="0.9" fill="#000"/>
<polyline points="185.50,345.60 185.50,343.60 225.75,343.60 225.75,345.60" fill="none" stroke="#a2a2a2" stroke-width="0.9"/>
<polygon points="176.25,439.30 173.60,444.30 178.90,444.30" fill="#fff" stroke="#000" stroke-width="1.0" stroke-linejoin="miter" stroke-miterlimit="10"/>
<polygon points="185.50,439.30 182.85,444.30 188.15,444.30" fill="#fff" stroke="#000" stroke-width="1.0" stroke-linejoin="miter" stroke-miterlimit="10"/>
<polygon points="194.50,439.30 191.85,444.30 197.15,444.30" fill="#fff" stroke="#000" stroke-width="1.0" stroke-linejoin="miter" stroke-miterlimit="10"/>
<polygon points="228.75,330.35 226.10,335.65 231.40,335.65" fill="#000"/>
<polygon points="228.75,411.10 226.10,416.40 231.40,416.40" fill="#000"/>
<polygon points="228.75,423.60 226.10,428.90 231.40,428.90" fill="#000"/>
<polygon points="237.50,420.35 234.85,425.65 240.15,425.65" fill="#000"/>
<line x1="171.00" y1="442.00" x2="200.00" y2="442.00" stroke="#4a4a4a" stroke-width="1.1"/>
<line x1="214.50" y1="398.25" x2="243.00" y2="398.25" stroke="#4a4a4a" stroke-width="1.1"/>
<line x1="287.50" y1="313.40" x2="287.50" y2="442.40" stroke="#a2a2a2" stroke-width="1.1"/>
<line x1="287.00" y1="441.90" x2="374.50" y2="441.90" stroke="#a2a2a2" stroke-width="1.1"/>
<line x1="285.50" y1="441.90" x2="287.50" y2="441.90" stroke="#a2a2a2" stroke-width="1.1"/>
<text x="274.51" y="444.26" font-size="6.6" font-weight="bold" fill="#000" stroke="#000" stroke-width="0.12" textLength="10.49" lengthAdjust="spacingAndGlyphs">0.0</text>
<line x1="285.50" y1="416.30" x2="287.50" y2="416.30" stroke="#a2a2a2" stroke-width="1.1"/>
<text x="274.51" y="418.66" font-size="6.6" font-weight="bold" fill="#000" stroke="#000" stroke-width="0.12" textLength="10.49" lengthAdjust="spacingAndGlyphs">0.5</text>
<line x1="285.50" y1="390.70" x2="287.50" y2="390.70" stroke="#a2a2a2" stroke-width="1.1"/>
<text x="274.51" y="393.06" font-size="6.6" font-weight="bold" fill="#000" stroke="#000" stroke-width="0.12" textLength="10.49" lengthAdjust="spacingAndGlyphs">1.0</text>
<line x1="285.50" y1="365.10" x2="287.50" y2="365.10" stroke="#a2a2a2" stroke-width="1.1"/>
<text x="274.51" y="367.46" font-size="6.6" font-weight="bold" fill="#000" stroke="#000" stroke-width="0.12" textLength="10.49" lengthAdjust="spacingAndGlyphs">1.5</text>
<line x1="285.50" y1="339.50" x2="287.50" y2="339.50" stroke="#a2a2a2" stroke-width="1.1"/>
<text x="274.51" y="341.86" font-size="6.6" font-weight="bold" fill="#000" stroke="#000" stroke-width="0.12" textLength="10.49" lengthAdjust="spacingAndGlyphs">2.0</text>
<line x1="285.50" y1="313.90" x2="287.50" y2="313.90" stroke="#a2a2a2" stroke-width="1.1"/>
<text x="274.51" y="316.26" font-size="6.6" font-weight="bold" fill="#000" stroke="#000" stroke-width="0.12" textLength="10.49" lengthAdjust="spacingAndGlyphs">2.5</text>
<text x="317.60" y="317.00" font-size="9.5" font-weight="bold" stroke="#000" stroke-width="0.2" textLength="27.00" lengthAdjust="spacingAndGlyphs">TNF-<tspan font-weight="normal" stroke-width="0.05" font-size="10" style='font-family:"Liberation Serif", serif'>a</tspan></text>
<text transform="translate(268.60,422.50) rotate(-90)" x="0" y="0" font-size="6.5" font-weight="bold" fill="#000" stroke="#000" stroke-width="0.1" textLength="92.20" lengthAdjust="spacingAndGlyphs">% SIV-specific CD4+ T cells</text>
<text x="300.00" y="451.60" font-size="6.7" font-weight="normal" fill="#000" stroke="#000" stroke-width="0.12" textLength="18.00" lengthAdjust="spacingAndGlyphs">CTRL</text>
<text x="342.00" y="451.60" font-size="6.7" font-weight="normal" fill="#000" stroke="#000" stroke-width="0.12" textLength="21.75" lengthAdjust="spacingAndGlyphs">RITUX</text>
<line x1="309.00" y1="441.90" x2="309.00" y2="443.40" stroke="#a2a2a2" stroke-width="1.1"/>
<line x1="352.88" y1="441.90" x2="352.88" y2="443.40" stroke="#a2a2a2" stroke-width="1.1"/>
<polygon points="300.00,439.30 297.35,444.30 302.65,444.30" fill="#fff" stroke="#000" stroke-width="1.0" stroke-linejoin="miter" stroke-miterlimit="10"/>
<polygon points="309.50,439.30 306.85,444.30 312.15,444.30" fill="#fff" stroke="#000" stroke-width="1.0" stroke-linejoin="miter" stroke-miterlimit="10"/>
<polygon points="318.75,439.30 316.10,444.30 321.40,444.30" fill="#fff" stroke="#000" stroke-width="1.0" stroke-linejoin="miter" stroke-miterlimit="10"/>
<polygon points="352.50,322.85 349.85,328.15 355.15,328.15" fill="#000"/>
<polygon points="352.50,412.85 349.85,418.15 355.15,418.15" fill="#000"/>
<polygon points="352.50,439.15 349.85,444.45 355.15,444.45" fill="#000"/>
<polygon points="362.00,439.15 359.35,444.45 364.65,444.45" fill="#000"/>
<line x1="295.00" y1="442.00" x2="324.00" y2="442.00" stroke="#4a4a4a" stroke-width="1.1"/>
<line x1="338.00" y1="405.75" x2="367.00" y2="405.75" stroke="#4a4a4a" stroke-width="1.1"/>
<line x1="409.10" y1="313.40" x2="409.10" y2="442.40" stroke="#a2a2a2" stroke-width="1.1"/>
<line x1="408.60" y1="441.90" x2="496.10" y2="441.90" stroke="#a2a2a2" stroke-width="1.1"/>
<line x1="407.10" y1="441.90" x2="409.10" y2="441.90" stroke="#a2a2a2" stroke-width="1.1"/>
<text x="403.50" y="444.26" font-size="6.6" font-weight="bold" fill="#000" stroke="#000" stroke-width="0.12" textLength="3.60" lengthAdjust="spacingAndGlyphs">0</text>
<line x1="407.10" y1="416.30" x2="409.10" y2="416.30" stroke="#a2a2a2" stroke-width="1.1"/>
<text x="403.50" y="418.66" font-size="6.6" font-weight="bold" fill="#000" stroke="#000" stroke-width="0.12" textLength="3.60" lengthAdjust="spacingAndGlyphs">2</text>
<line x1="407.10" y1="390.70" x2="409.10" y2="390.70" stroke="#a2a2a2" stroke-width="1.1"/>
<text x="403.50" y="393.06" font-size="6.6" font-weight="bold" fill="#000" stroke="#000" stroke-width="0.12" textLength="3.60" lengthAdjust="spacingAndGlyphs">4</text>
<line x1="407.10" y1="365.10" x2="409.10" y2="365.10" stroke="#a2a2a2" stroke-width="1.1"/>
<text x="403.50" y="367.46" font-size="6.6" font-weight="bold" fill="#000" stroke="#000" stroke-width="0.12" textLength="3.60" lengthAdjust="spacingAndGlyphs">6</text>
<line x1="407.10" y1="339.50" x2="409.10" y2="339.50" stroke="#a2a2a2" stroke-width="1.1"/>
<text x="403.50" y="341.86" font-size="6.6" font-weight="bold" fill="#000" stroke="#000" stroke-width="0.12" textLength="3.60" lengthAdjust="spacingAndGlyphs">8</text>
<line x1="407.10" y1="313.90" x2="409.10" y2="313.90" stroke="#a2a2a2" stroke-width="1.1"/>
<text x="399.91" y="316.26" font-size="6.6" font-weight="bold" fill="#000" stroke="#000" stroke-width="0.12" textLength="7.19" lengthAdjust="spacingAndGlyphs">10</text>
<text x="434.80" y="317.00" font-size="9.5" font-weight="bold" fill="#000" stroke="#000" stroke-width="0.2" textLength="36.00" lengthAdjust="spacingAndGlyphs">CD107a</text>
<text transform="translate(392.60,422.50) rotate(-90)" x="0" y="0" font-size="6.5" font-weight="bold" fill="#000" stroke="#000" stroke-width="0.1" textLength="92.20" lengthAdjust="spacingAndGlyphs">% SIV-specific CD8+ T cells</text>
<text x="422.50" y="451.00" font-size="6.7" font-weight="normal" fill="#000" stroke="#000" stroke-width="0.12" textLength="17.30" lengthAdjust="spacingAndGlyphs">CTRL</text>
<text x="464.00" y="451.00" font-size="6.7" font-weight="normal" fill="#000" stroke="#000" stroke-width="0.12" textLength="21.40" lengthAdjust="spacingAndGlyphs">RITUX</text>
<line x1="431.15" y1="441.90" x2="431.15" y2="443.40" stroke="#a2a2a2" stroke-width="1.1"/>
<line x1="474.70" y1="441.90" x2="474.70" y2="443.40" stroke="#a2a2a2" stroke-width="1.1"/>
<polygon points="422.10,437.10 419.45,442.10 424.75,442.10" fill="#fff" stroke="#000" stroke-width="1.0" stroke-linejoin="miter" stroke-miterlimit="10"/>
<polygon points="431.20,439.30 428.55,444.30 433.85,444.30" fill="#fff" stroke="#000" stroke-width="1.0" stroke-linejoin="miter" stroke-miterlimit="10"/>
<polygon points="440.00,437.60 437.35,442.60 442.65,442.60" fill="#fff" stroke="#000" stroke-width="1.0" stroke-linejoin="miter" stroke-miterlimit="10"/>
<polygon points="474.60,331.85 471.95,337.15 477.25,337.15" fill="#000"/>
<polygon points="474.60,402.35 471.95,407.65 477.25,407.65" fill="#000"/>
<polygon points="474.60,439.15 471.95,444.45 477.25,444.45" fill="#000"/>
<polygon points="483.10,439.15 480.45,444.45 485.75,444.45" fill="#000"/>
<line x1="417.50" y1="440.60" x2="445.20" y2="440.60" stroke="#4a4a4a" stroke-width="1.1"/>
<line x1="460.30" y1="405.80" x2="488.80" y2="405.80" stroke="#4a4a4a" stroke-width="1.1"/>
</svg>
</body></html>
